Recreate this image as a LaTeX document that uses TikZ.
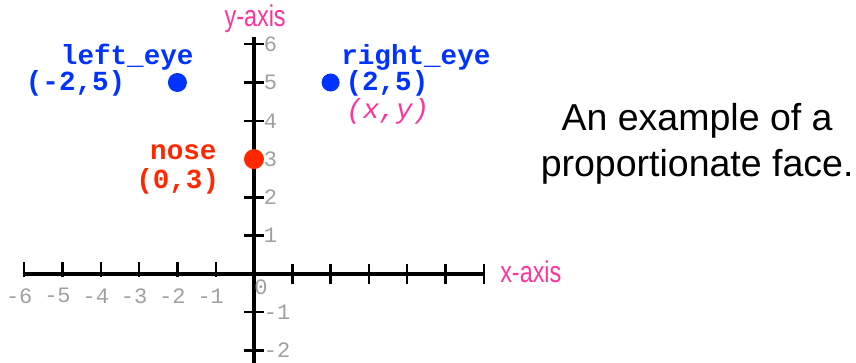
\documentclass[tikz,border=0pt]{standalone}
\usepackage{fontspec}
\setmainfont{Liberation Sans}
\newfontfamily\codefont{Liberation Mono}
\newfontfamily\narrowfont[FakeStretch=0.78]{Liberation Sans}
\usetikzlibrary{positioning}
\definecolor{eyeblue}{RGB}{0,51,255}
\definecolor{nosered}{RGB}{255,40,0}
\definecolor{axispink}{RGB}{255,51,153}
\definecolor{tickgray}{RGB}{160,160,160}

\begin{document}
\begin{tikzpicture}[
    x=19.15pt, y=19.15pt,
    axisline/.style={line width=2.2pt},
    tickline/.style={line width=1.2pt},
    ticklbl/.style={font=\codefont\fontsize{11}{13}\selectfont, text=tickgray, inner sep=0pt},
    axislbl/.style={font=\narrowfont\fontsize{15}{17}\selectfont, text=axispink, inner sep=0pt},
    dot/.style={circle, inner sep=0pt, minimum size=9.5pt},
    ptlbl/.style={font=\codefont\bfseries\fontsize{13.8}{17}\selectfont, inner sep=0pt},
    caption/.style={font=\fontsize{18.75}{23}\selectfont, align=center, inner sep=0pt}
]
\useasboundingbox (-6.632,-2.298) rectangle (15.718,7.154);

% Axes with ticks
\draw[axisline] (-6.03,0) -- (6.02,0);
\draw[axisline] (0,6.19) -- (0,-2.4);
\foreach \i in {-6,...,-1}
  \draw[tickline] (\i,-0.08) -- (\i,0.31);
\foreach \i in {1,...,6}
  \draw[tickline] (\i,-0.27) -- (\i,0.26);
\foreach \i in {-2,-1,1,2,3,4,5,6}
  \draw[tickline] (-0.27,\i) -- (0.26,\i);

% Tick numbers
\foreach \i in {-6,...,-1}
  \node[ticklbl, xshift=-2.5pt] (xl\i) at (\i,-0.57) {\i};
\foreach \i in {-2,-1,1,2,3,4,5,6}
  \node[ticklbl, anchor=west] (yl\i) at (0.25,\i) {\i};
\node[ticklbl] (orig) at (0.18,-0.34) {0};

% Axis names
\node[axislbl, anchor=base] (ylab) at (0.03,6.45) {y-axis};
\node[axislbl, anchor=base west] (xlab) at (6.42,-0.23) {x-axis};

% Face points
\node[dot, fill=eyeblue] (leye) at (-2,5) {};
\node[dot, fill=eyeblue, minimum size=9pt] (reye) at (2,5) {};
\node[dot, fill=nosered, minimum size=10pt] (nose) at (0,3) {};

\node[ptlbl, text=eyeblue, anchor=base east] (leyename) at (-1.57,5.48) {left\_eye};
\node[ptlbl, text=eyeblue, anchor=base east] (leyexy) at (-3.35,4.78) {(-2,5)};
\node[ptlbl, text=eyeblue, anchor=base west] (reyename) at (2.27,5.48) {right\_eye};
\node[ptlbl, text=eyeblue, anchor=base west] (reyexy) at (2.38,4.80) {(2,5)};
\node[ptlbl, font=\codefont\itshape\fontsize{13.8}{17}\selectfont, text=axispink,
      anchor=base west] (generic) at (2.40,4.06) {(x,y)};
\node[ptlbl, text=nosered, anchor=base east] (nosename) at (-0.97,2.98) {nose};
\node[ptlbl, text=nosered, anchor=base east] (nosexy) at (-0.90,2.24) {(0,3)};

% Caption
\node[caption] (cap) at (11.57,3.41) {An example of a\\proportionate face.};
\end{tikzpicture}
\end{document}
